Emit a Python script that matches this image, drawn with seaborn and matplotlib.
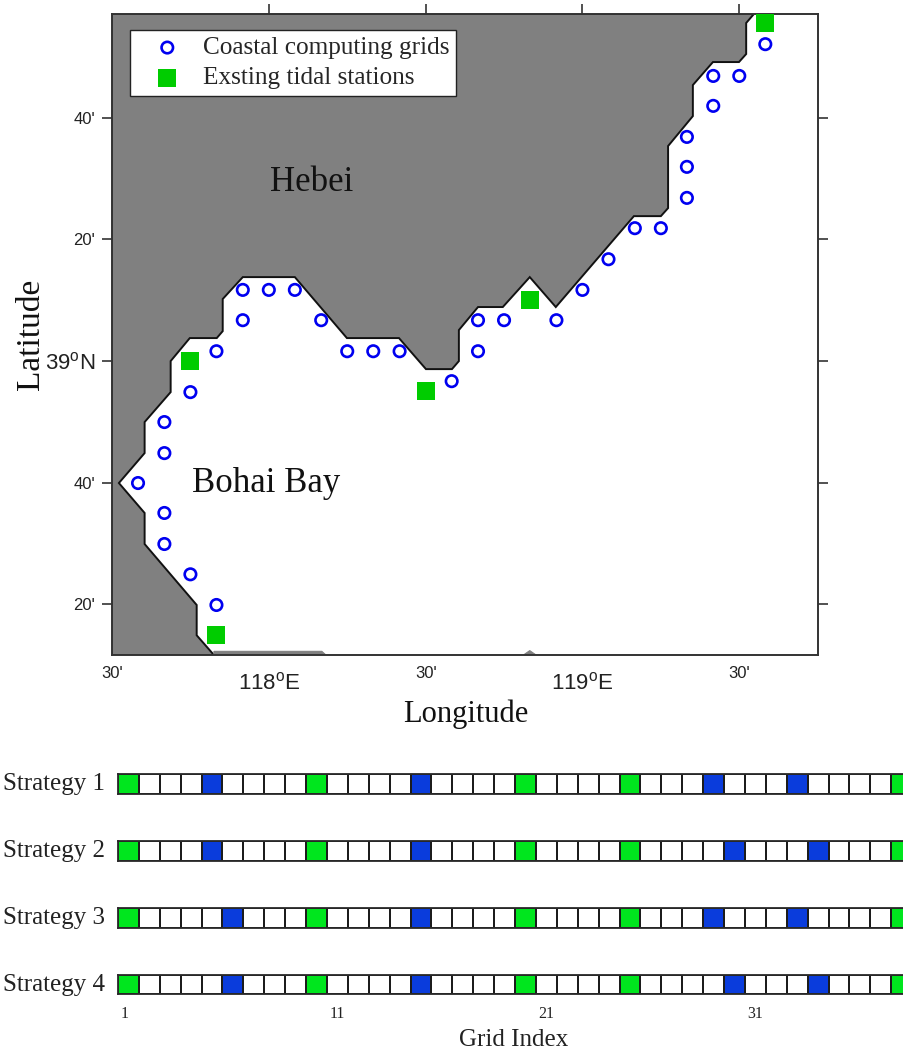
import matplotlib
matplotlib.use("Agg")
import matplotlib.pyplot as plt
from matplotlib.colors import ListedColormap
from matplotlib.transforms import ScaledTranslation
import numpy as np
import pandas as pd
import seaborn as sns

sns.set_theme(style="white")
plt.rcParams["mathtext.fontset"] = "custom"
plt.rcParams["mathtext.rm"] = "Liberation Sans"
SERIF = "Liberation Serif"
SANS = "Liberation Sans"

# Coastline (degrees), south to north
coast_lon = [117.825, 117.770, 117.770, 117.604, 117.604, 117.522, 117.604, 117.604, 117.687,
             117.687, 117.748, 117.834, 117.853, 117.853, 117.917, 118.083, 118.249, 118.415,
             118.501, 118.584, 118.606, 118.606, 118.667, 118.746, 118.832, 118.915, 119.164,
             119.250, 119.273, 119.273, 119.352, 119.352, 119.416, 119.499, 119.522, 119.522,
             119.547]
coast_lat = [38.195, 38.249, 38.332, 38.499, 38.584, 38.666, 38.748, 38.833, 38.915,
             39.000, 39.063, 39.063, 39.082, 39.170, 39.230, 39.230, 39.063, 39.063,
             38.978, 38.978, 39.000, 39.085, 39.148, 39.148, 39.230, 39.148, 39.397,
             39.397, 39.419, 39.589, 39.671, 39.756, 39.819, 39.819, 39.841, 39.926,
             39.951]
# Small land slivers on the southern edge
strip_lon = [117.825, 117.825, 118.169, 118.182]
strip_lat = [38.195, 38.205, 38.205, 38.195]
islet_lon = [118.812, 118.832, 118.852]
islet_lat = [38.195, 38.207, 38.195]

# Coastal computing grids
grid_lon = [117.833, 117.750, 117.667, 117.667, 117.583, 117.667, 117.667, 117.750, 117.833,
            117.917, 117.917, 118.000, 118.083, 118.167, 118.250, 118.333, 118.417, 118.583,
            118.667, 118.667, 118.750, 118.917, 119.000, 119.083, 119.167, 119.250, 119.333,
            119.333, 119.333, 119.417, 119.417, 119.500, 119.583]
grid_lat = [38.332, 38.416, 38.499, 38.584, 38.666, 38.748, 38.833, 38.915, 39.027,
            39.112, 39.195, 39.195, 39.195, 39.112, 39.027, 39.027, 39.027, 38.945,
            39.027, 39.112, 39.112, 39.112, 39.195, 39.279, 39.364, 39.364, 39.447,
            39.532, 39.614, 39.699, 39.781, 39.781, 39.868]

# Existing tidal stations
station_lon = [117.833, 117.750, 118.500, 118.833, 119.583]
station_lat = [38.250, 39.000, 38.917, 39.167, 39.926]

# Strategy strips: 38 cells
strategies = ["Strategy 1", "Strategy 2", "Strategy 3", "Strategy 4"]
n_cells = 38
green_cells = [1, 10, 20, 25, 38]
blue_cells = [[5, 15, 29, 33], [5, 15, 30, 34], [6, 15, 29, 33], [6, 15, 30, 34]]
index_ticks = [1, 11, 21, 31]

W, H = 904, 1054
fig = plt.figure(figsize=(W / 100, H / 100), dpi=100, facecolor="white")

def px_axes(x0, y0, x1, y1):
    return fig.add_axes([x0 / W, 1 - y1 / H, (x1 - x0) / W, (y1 - y0) / H])

ax = px_axes(112, 13.5, 818, 655)
ax.set_facecolor("white")
land_x = coast_lon + [117.5, 117.5]
land_y = coast_lat + [39.952, 38.195]
ax.fill(land_x, land_y, facecolor="#808080", edgecolor="#111111", linewidth=1.4, zorder=1)
ax.fill(strip_lon, strip_lat, facecolor="#808080", edgecolor="#808080", linewidth=0.8, zorder=1)
ax.fill(islet_lon, islet_lat, facecolor="#808080", edgecolor="#808080", linewidth=0.8, zorder=1)

sns.scatterplot(x=grid_lon, y=grid_lat, ax=ax, marker="o", s=68, facecolor="none",
                edgecolor="#0000F0", linewidth=1.9, label="Coastal computing grids", zorder=3)
sns.scatterplot(x=station_lon, y=station_lat, ax=ax, marker="s", s=150, color="#00CC00",
                linewidth=0, label="Exsting tidal stations", zorder=3)

ax.set_xlim(117.5, 119.751)
ax.set_ylim(38.195, 39.952)
ax.set_xticks([117.5, 118.0, 118.5, 119.0, 119.5])
ax.set_xticklabels(["30'", r"118$^{\rm o}$E", "30'", r"119$^{\rm o}$E", "30'"], family=SANS, color="#222222")
ax.set_yticks([38 + 1 / 3, 38 + 2 / 3, 39.0, 39 + 1 / 3, 39 + 2 / 3])
ax.set_yticklabels(["20'", "40'", r"39$^{\rm o}$N", "20'", "40'"], family=SANS, color="#222222")
ax.tick_params(axis="x", bottom=False, top=True, labelbottom=True, length=7, width=1.2,
               color="#333333", pad=1, labelsize=16)
ax.tick_params(axis="y", left=True, right=True, length=7, width=1.2, color="#333333",
               pad=5, labelsize=16)
ax.xaxis.get_major_ticks()[0].tick2line.set_visible(False)
shift_down = ScaledTranslation(0, -6 / 100, fig.dpi_scale_trans)
for t in ax.get_xticklabels():
    if t.get_text() == "30'":
        t.set_fontsize(12)
    else:
        t.set_transform(t.get_transform() + shift_down)
for t in ax.get_yticklabels():
    if t.get_text() != r"39$^{\rm o}$N":
        t.set_fontsize(12)
for s in ax.spines.values():
    s.set_visible(True)
    s.set_color("#333333")
    s.set_linewidth(1.4)
ax.set_xlabel("Longitude", family=SERIF, fontsize=22, color="#111111", va="center")
ax.xaxis.set_label_coords(0.5014, -0.0920)
ax.set_ylabel("Latitude", family=SERIF, fontsize=24, color="#111111", va="center")
ax.yaxis.set_label_coords(-0.115, 0.50)

ax.text(118.137, 39.49, "Hebei", family=SERIF, fontsize=25, ha="center", va="center", color="#111111", zorder=4)
ax.text(117.99, 38.666, "Bohai Bay", family=SERIF, fontsize=25, ha="center", va="center", color="#111111", zorder=4)

leg = ax.legend(loc="upper left", bbox_to_anchor=(0.0255, 0.974), borderaxespad=0,
                prop={"family": SERIF, "size": 18.2}, frameon=True, fancybox=False,
                edgecolor="#222222", framealpha=1, handlelength=2.45, handletextpad=0.2,
                borderpad=0.25, labelspacing=0.3)
leg.get_frame().set_linewidth(1.0)
leg.set_zorder(5)

cell_cmap = ListedColormap(["white", "#00E61E", "#0A3CDC"])
row_tops = [774.3, 841.2, 908.2, 975.0]
for name, blues, top in zip(strategies, blue_cells, row_tops):
    vals = np.zeros((1, n_cells), dtype=int)
    vals[0, np.array(green_cells) - 1] = 1
    vals[0, np.array(blues) - 1] = 2
    frame = pd.DataFrame(vals, index=[name], columns=range(1, n_cells + 1))
    a = px_axes(118, top, 118 + 20.9 * n_cells, top + 19.4)
    sns.heatmap(frame, ax=a, cmap=cell_cmap, vmin=0, vmax=2, cbar=False, linewidths=1.3,
                linecolor="#1c1c1c", square=False, xticklabels=False, yticklabels=False)
    a.set_xlabel("")
    a.set_ylabel("")
    for s in a.spines.values():
        s.set_visible(True)
        s.set_color("#2a2a2a")
        s.set_linewidth(1.3)
    fig.text(3 / W, 1 - (top + 10) / H, name, family=SERIF, fontsize=18, ha="left", va="center", color="#222222")

a.set_xticks([i - 0.5 - (0.2 if i == 1 else 0) for i in index_ticks])
a.set_xticklabels([str(i) for i in index_ticks], family=SERIF, fontsize=11.5, color="#222222")
a.tick_params(axis="x", length=0, pad=8, rotation=0)
fig.text(514 / W, 1 - 1040 / H, "Grid Index", family=SERIF, fontsize=18, ha="center", va="center", color="#222222")

fig.savefig("out.png", dpi=100, facecolor="white")
